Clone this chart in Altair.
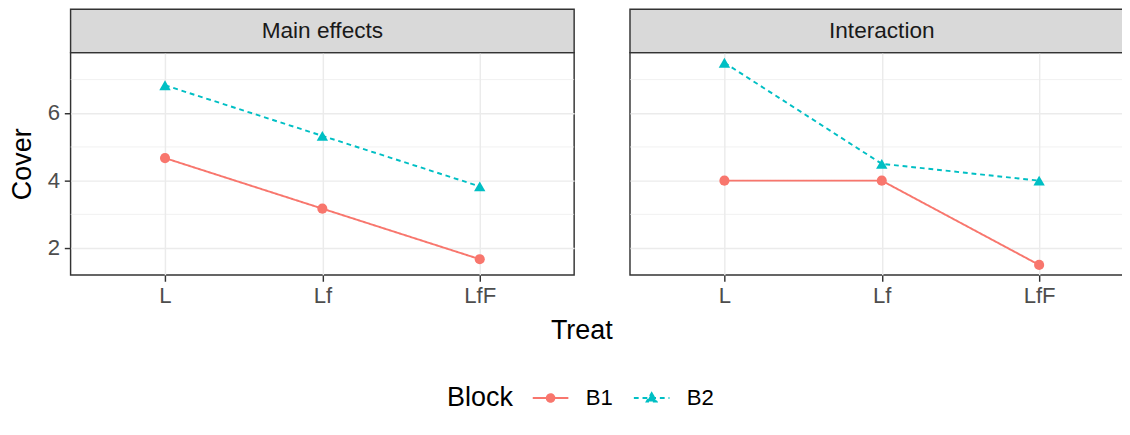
import altair as alt
import pandas as pd

panels = ["Main effects", "Interaction"]
treats = ["L", "Lf", "LfF"]
blocks = ["B1", "B2"]
main_b1 = [4.67, 3.17, 1.67]
main_b2 = [6.83, 5.33, 3.83]
int_b1 = [4.0, 4.0, 1.5]
int_b2 = [7.5, 4.5, 4.0]
y_major = [2, 4, 6]
y_minor = [3, 5, 7]
colors = ["#F8766D", "#00BFC4"]

W, H = 523, 231
STRIP = 45
GAP = 15
FONT = "Liberation Sans"
SMALL = 23
BIG = 28

B1_PATH = "M-2,0L2,0M-0.43,0A0.43,0.43,0,1,1,0.43,0A0.43,0.43,0,1,1,-0.43,0Z"
B2_PATH = "M-2,0L2,0M0,-0.55L0.55,0.4L-0.55,0.4Z"

ysc = alt.Scale(domain=[1.2, 7.8], nice=False, zero=False)
xsc = alt.Scale(type="point", padding=0.6, domain=treats)
csc = alt.Scale(domain=blocks, range=colors)
dsc = alt.Scale(domain=blocks, range=[[1, 0], [5, 4]])
ssc = alt.Scale(domain=blocks, range=[B1_PATH, B2_PATH])


def panel(name, b1, b2, first):
    df = pd.DataFrame({
        "Treat": treats * 2,
        "Block": [blocks[0]] * 3 + [blocks[1]] * 3,
        "Cover": b1 + b2,
    })
    if first:
        yaxis = alt.Axis(values=y_major, title="Cover", labelFontSize=SMALL, labelColor="#4D4D4D",
                         tickColor="#333333", tickSize=6.5, tickWidth=1.5, domain=False,
                         grid=True, gridColor="#EBEBEB", gridWidth=1.5,
                         titleFontSize=BIG, titleFontWeight="normal", titleColor="black",
                         titlePadding=11, labelPadding=5)
        xtitle = "Treat"
    else:
        yaxis = alt.Axis(values=y_major, title=None, labels=False, ticks=False, domain=False,
                         grid=True, gridColor="#EBEBEB", gridWidth=1.5)
        xtitle = None
    xaxis = alt.Axis(title=xtitle, labelAngle=0, labelFontSize=SMALL, labelColor="#4D4D4D",
                     tickColor="#333333", tickSize=6.5, tickWidth=1.5, domain=False,
                     grid=True, gridColor="#EBEBEB", gridWidth=1.5,
                     titleFontSize=BIG, titleFontWeight="normal", titleColor="black",
                     titlePadding=10, labelPadding=4, titleX=(2 * W + GAP) / 2)

    base = alt.Chart(df)
    minor = alt.Chart(pd.DataFrame({"m": y_minor})).mark_rule(
        color="#EBEBEB", strokeWidth=0.75).encode(y=alt.Y("m:Q", scale=ysc, axis=yaxis))

    leg = alt.Legend(title="Block") if first else None
    lines = base.mark_line(strokeWidth=2).encode(
        x=alt.X("Treat:N", scale=xsc, axis=xaxis, sort=treats),
        y=alt.Y("Cover:Q", scale=ysc),
        stroke=alt.Stroke("Block:N", scale=csc, legend=leg),
        strokeDash=alt.StrokeDash("Block:N", scale=dsc, legend=leg),
    )
    circ = base.transform_filter(alt.datum.Block == blocks[0]).mark_point(
        filled=True, size=110, opacity=1, shape="circle").encode(
        x=alt.X("Treat:N", scale=xsc, sort=treats),
        y=alt.Y("Cover:Q", scale=ysc),
        fill=alt.Fill("Block:N", scale=csc, legend=leg),
    )
    tri = base.transform_filter(alt.datum.Block == blocks[1]).mark_point(
        filled=True, size=140, opacity=1, shape="triangle-up").encode(
        x=alt.X("Treat:N", scale=xsc, sort=treats),
        y=alt.Y("Cover:Q", scale=ysc),
        fill=alt.Fill("Block:N", scale=csc, legend=leg),
    )
    sdf = pd.DataFrame({"panel": [name]})
    strip = alt.Chart(sdf).mark_rect(fill="#D9D9D9", stroke="#333333", strokeWidth=1.5, clip=False).encode(
        x=alt.value(0), x2=alt.value(W), y=alt.value(-STRIP), y2=alt.value(0))
    stext = alt.Chart(sdf).mark_text(fontSize=23.5, color="#1A1A1A", font=FONT, baseline="middle").encode(
        x=alt.value(W / 2), y=alt.value(-STRIP / 2), text="panel:N")
    layers = [minor, lines, circ, tri, strip, stext]
    if first:
        legend_layer = base.transform_filter("false").mark_point(opacity=1, strokeWidth=2, filled=False).encode(
            x=alt.X("Treat:N", scale=xsc, sort=treats),
            y=alt.Y("Cover:Q", scale=ysc),
            fill=alt.Fill("Block:N", scale=csc, legend=leg),
            stroke=alt.Stroke("Block:N", scale=csc, legend=leg),
            shape=alt.Shape("Block:N", scale=ssc, legend=leg),
            strokeDash=alt.StrokeDash("Block:N", scale=dsc, legend=leg),
        )
        layers.append(legend_layer)
    return alt.layer(*layers).properties(width=W, height=H)


chart = alt.hconcat(
    panel(panels[0], main_b1, main_b2, True),
    panel(panels[1], int_b1, int_b2, False),
    spacing=GAP,
).properties(padding={"left": 0, "top": -8.5, "right": -14, "bottom": -6}).configure(font=FONT).configure_view(
    stroke="#333333", strokeWidth=1.5
).configure_legend(
    orient="none", legendX=391, legendY=347,
    direction="horizontal", titleOrient="left", titleFontSize=BIG, titlePadding=27,
    titleFontWeight="normal", titleColor="black", labelFontSize=SMALL, labelColor="black",
    symbolSize=342, symbolStrokeWidth=2, labelOffset=25, columnPadding=17,
)

chart.save("out.html", embed_options={"renderer": "svg", "actions": False})
